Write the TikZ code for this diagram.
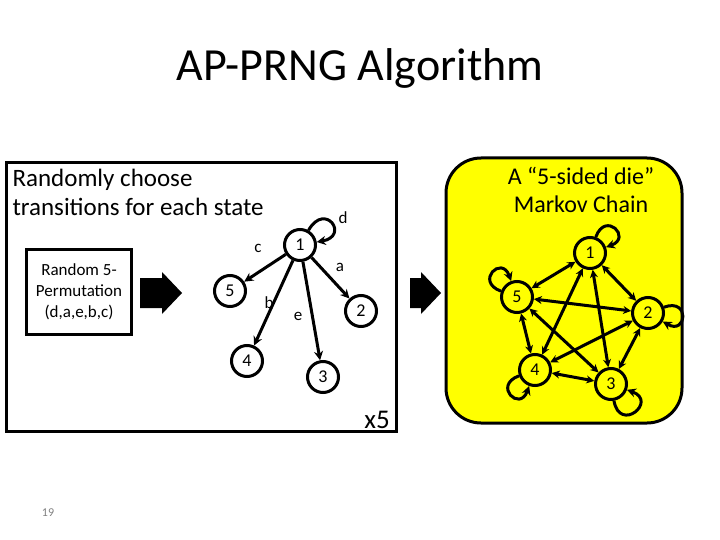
\documentclass[tikz,border=0pt]{standalone}
\usepackage{fontspec}
\setmainfont{Carlito}
\usetikzlibrary{arrows.meta}
\begin{document}
\begin{tikzpicture}[x=1pt,y=-1pt,
  state/.style={circle,draw,line width=3pt,minimum size=31pt,inner sep=0pt,font=\fontsize{18}{18}\selectfont},
  edge/.style={line width=3pt,-{Stealth[length=9pt,width=9pt]}},
  both/.style={line width=3pt,{Stealth[length=8pt,width=8pt]}-{Stealth[length=8pt,width=8pt]}},
  lbl/.style={font=\fontsize{17}{17}\selectfont}]
\useasboundingbox (0,0) rectangle (720,540);
\definecolor{dieyellow}{RGB}{255,255,0}
\newcommand{\blockarrow}[3]{% x, y, length
  \fill (#1,#2-15) -- ++(#3-20,0) -- ++(0,-6) -- ++(20,21) -- ++(-20,21) -- ++(0,-6) -- ++(-#3+20,0) -- cycle;}
\node (title) at (360,68) {\fontsize{46}{46}\selectfont AP-PRNG Algorithm};
% left panel
\draw[line width=3pt] (6,163) rectangle (396,431);
\node[anchor=north west,align=left,font=\fontsize{25}{29}\selectfont] (intro) at (9,166) {Randomly choose\\transitions for each state};
\node[draw,line width=3pt,minimum width=105pt,minimum height=85pt,align=center,font=\fontsize{17}{21}\selectfont] (perm) at (79,292) {Random 5-\\Permutation\\(d,a,e,b,c)};
\blockarrow{140}{293}{42}
\blockarrow{410}{293}{31}
\node[font=\fontsize{27}{27}\selectfont] (times) at (377,420) {x5};
% one state's transitions
\node[state] (m1) at (300,245) {1};
\node[state] (m5) at (230,291) {5};
\node[state] (m2) at (361,311) {2};
\node[state] (m4) at (247,361) {4};
\node[state] (m3) at (323,377) {3};
\draw[edge] (m1) to[out=60,in=10,looseness=6] (m1);
\draw[edge] (m1) -- (m5);
\draw[edge] (m1) -- (m2);
\draw[edge] (m1) -- (m4);
\draw[edge] (m1) -- (m3);
\node[lbl] (ld) at (343,218) {d};
\node[lbl] (lc) at (258,248) {c};
\node[lbl] (la) at (340,267) {a};
\node[lbl] (lb) at (269,303) {b};
\node[lbl] (le) at (298,316) {e};
% markov chain panel
\draw[line width=3pt,fill=dieyellow,rounded corners=35pt] (446,158) rectangle (682,423);
\node[align=center,font=\fontsize{24}{28}\selectfont] (die) at (581,190) {A “5-sided die”\\Markov Chain};
\node[state] (d1) at (590,253) {1};
\node[state] (d5) at (517,297) {5};
\node[state] (d2) at (648,313) {2};
\node[state] (d4) at (535,370) {4};
\node[state] (d3) at (611,384) {3};
\foreach \a/\b in {1/5,1/2,1/4,1/3,5/2,5/4,5/3,2/4,2/3,4/3}
  \draw[both] (d\a) -- (d\b);
\draw[edge] (d1) to[out=70,in=20,looseness=5] (d1);
\draw[edge] (d5) to[out=160,in=110,looseness=5] (d5);
\draw[edge] (d2) to[out=20,in=-30,looseness=5] (d2);
\draw[edge] (d4) to[out=200,in=250,looseness=5] (d4);
\draw[edge] (d3) to[out=-80,in=-20,looseness=5] (d3);
\node[text=gray,font=\fontsize{12}{12}\selectfont] (page) at (48,513) {19};
\end{tikzpicture}
\end{document}
